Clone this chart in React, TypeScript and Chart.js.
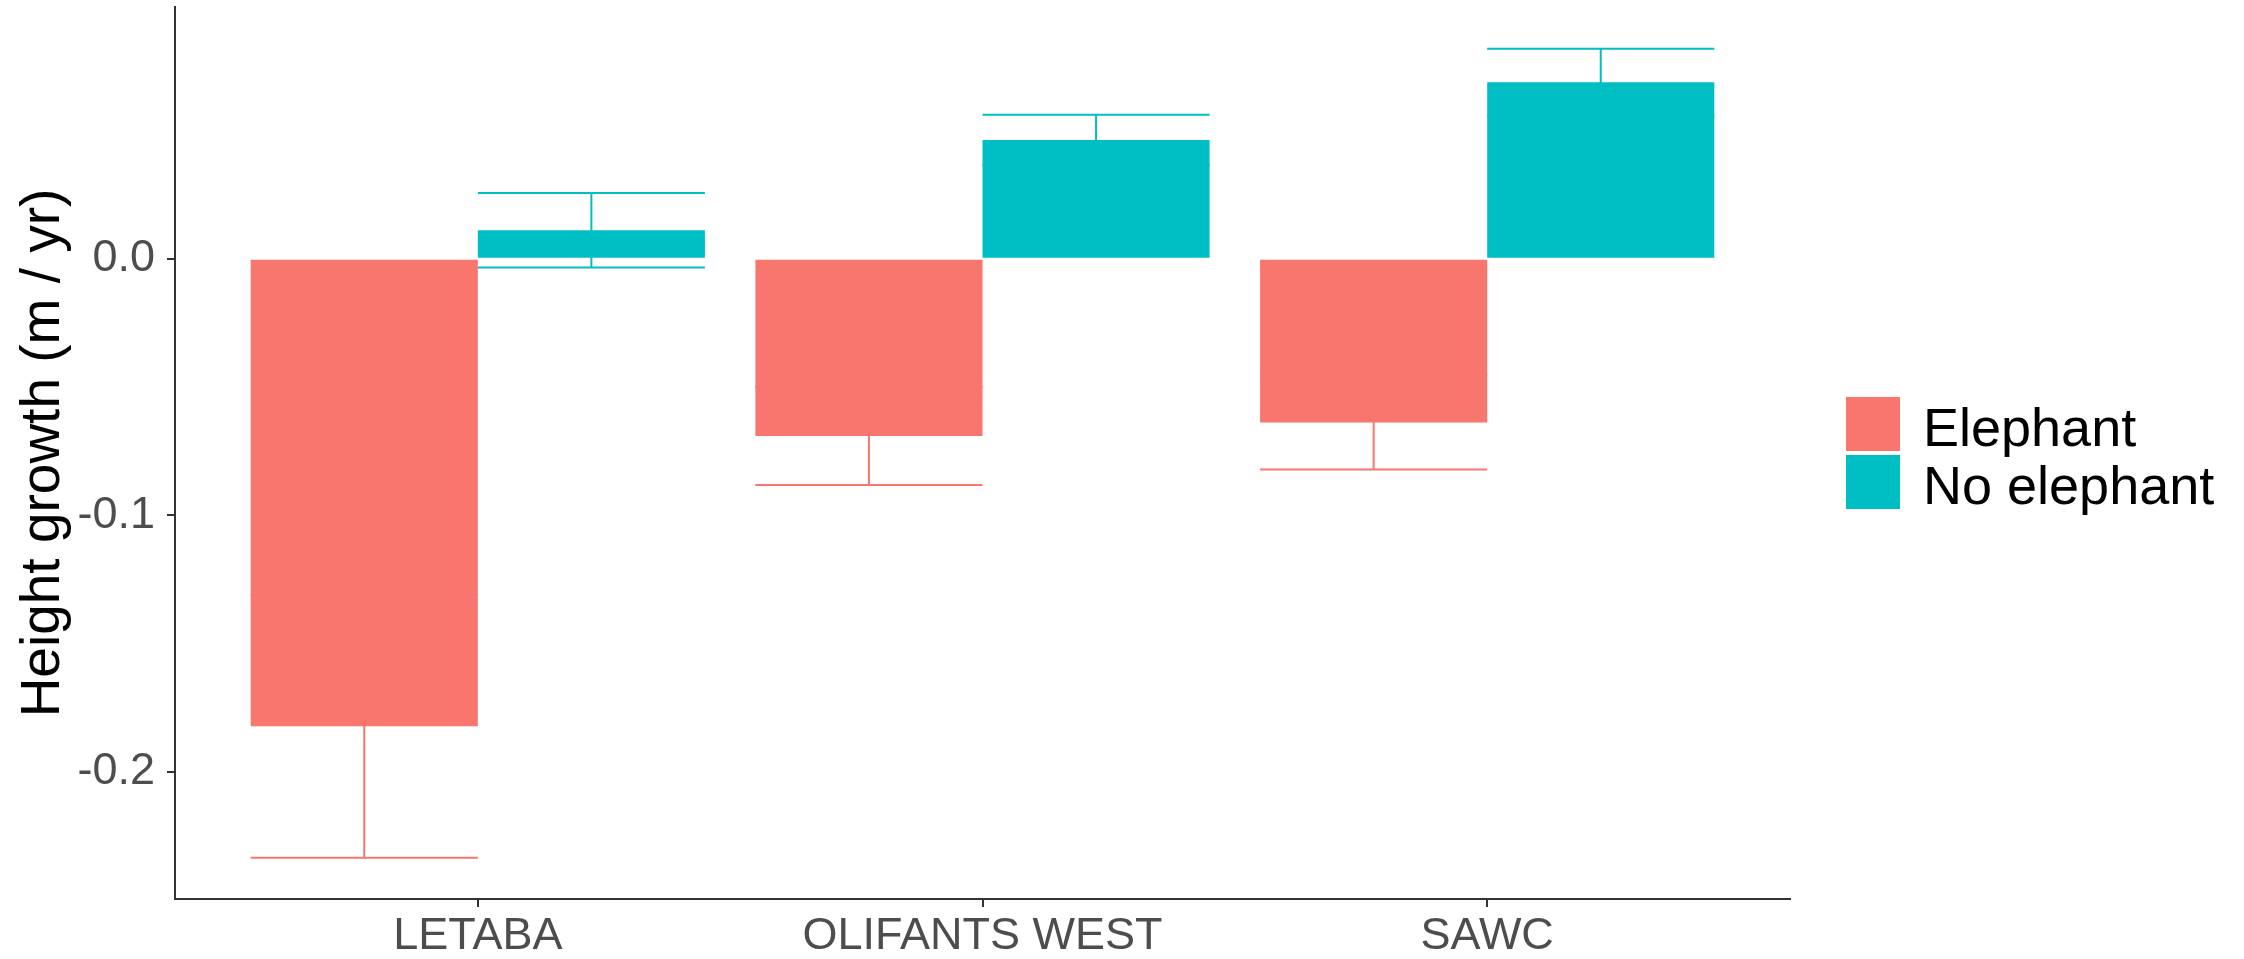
import { useEffect, useRef } from "react";
import { Chart, registerables } from "chart.js";

Chart.register(...registerables);

// ---- data ----
const categories = ["LETABA", "OLIFANTS WEST", "SAWC"];
const seriesNames = ["Elephant", "No elephant"];
const elephantMeans = [-0.1822, -0.0691, -0.0638];
const elephantSE = [0.0512, 0.0191, 0.0183];
const noElephantMeans = [0.0111, 0.0463, 0.0688];
const noElephantSE = [0.0145, 0.0098, 0.013];
const yTicks = [-0.2, -0.1, 0.0];
const yMin = -0.2495;
const yMax = 0.0981;
const seriesColors = ["#F8766D", "#00BFC4"];

const FONT = '"Liberation Sans", Arial, Helvetica, sans-serif';

const errorBarPlugin = {
  id: "errorBars",
  beforeDatasetsDraw(chart: any) {
    const ctx = chart.ctx;
    const yScale = chart.scales.y;
    chart.data.datasets.forEach((ds: any, di: number) => {
      const meta = chart.getDatasetMeta(di);
      meta.data.forEach((bar: any, i: number) => {
        const v = ds.data[i].y;
        const e = ds.errors[i];
        const { x, width } = bar.getProps(["x", "width"], true);
        const yTop = yScale.getPixelForValue(v + e);
        const yBot = yScale.getPixelForValue(v - e);
        ctx.save();
        ctx.strokeStyle = ds.backgroundColor;
        ctx.lineWidth = 2;
        ctx.beginPath();
        ctx.moveTo(x - width / 2, yTop);
        ctx.lineTo(x + width / 2, yTop);
        ctx.moveTo(x - width / 2, yBot);
        ctx.lineTo(x + width / 2, yBot);
        ctx.moveTo(x, yTop);
        ctx.lineTo(x, yBot);
        ctx.stroke();
        ctx.restore();
      });
    });
  },
};

const legendPlugin = {
  id: "sideLegend",
  afterDraw(chart: any) {
    const ctx = chart.ctx;
    const area = chart.chartArea;
    const keyX = area.right + 56;
    const keySize = 54;
    const firstTop = 397;
    const step = 58;
    ctx.save();
    chart.data.datasets.forEach((ds: any, i: number) => {
      const top = firstTop + i * step;
      ctx.fillStyle = ds.backgroundColor;
      ctx.fillRect(keyX, top, keySize, keySize);
      ctx.fillStyle = "#000000";
      ctx.font = `54px ${FONT}`;
      ctx.textAlign = "left";
      ctx.textBaseline = "alphabetic";
      ctx.fillText(ds.label, keyX + keySize + 23, top + 49);
    });
    ctx.restore();
  },
};

export default function App() {
  const canvasRef = useRef<HTMLCanvasElement | null>(null);

  useEffect(() => {
    if (!canvasRef.current) return;
    const chart = new Chart(canvasRef.current, {
      type: "bar",
      data: {
        datasets: [
          {
            label: seriesNames[0],
            data: elephantMeans.map((v, i) => ({ x: i + 1, y: v })),
            errors: elephantSE,
            backgroundColor: seriesColors[0],
            borderWidth: 0,
          } as any,
          {
            label: seriesNames[1],
            data: noElephantMeans.map((v, i) => ({ x: i + 1, y: v })),
            errors: noElephantSE,
            backgroundColor: seriesColors[1],
            borderWidth: 0,
          } as any,
        ],
      },
      options: {
        animation: false,
        responsive: true,
        maintainAspectRatio: false,
        categoryPercentage: 0.9,
        barPercentage: 1.0,
        layout: { padding: { left: 0, top: 7, right: 454, bottom: 0 } },
        plugins: {
          legend: { display: false },
          tooltip: { enabled: false },
        },
        scales: {
          x: {
            type: "linear",
            min: 0.4,
            max: 3.6,
            bounds: "data",
            offset: false,
            grid: {
              offset: false,
              drawOnChartArea: false,
              drawTicks: true,
              tickLength: 8,
              color: "#333333",
              lineWidth: 2,
            },
            border: { display: true, color: "#333333", width: 2 },
            afterBuildTicks: (scale: any) => {
              scale.ticks = categories.map((_, i) => ({ value: i + 1 }));
            },
            afterFit: (scale: any) => {
              scale.height = 60;
              scale.paddingLeft = 0;
              scale.paddingRight = 0;
            },
            ticks: {
              autoSkip: false,
              maxRotation: 0,
              padding: 3,
              color: "#4D4D4D",
              font: { family: FONT, size: 45 },
              callback: (value: any) => categories[Math.round(value) - 1] ?? "",
            },
          } as any,
          y: {
            type: "linear",
            min: yMin,
            max: yMax,
            bounds: "data",
            grid: {
              drawOnChartArea: false,
              drawTicks: true,
              tickLength: 8,
              color: "#333333",
              lineWidth: 2,
            },
            border: { display: true, color: "#333333", width: 2 },
            afterBuildTicks: (scale: any) => {
              scale.ticks = yTicks.map((v) => ({ value: v }));
            },
            afterFit: (scale: any) => {
              scale.width = 175;
              scale.paddingTop = 0;
              scale.paddingBottom = 0;
            },
            ticks: {
              padding: 12,
              color: "#4D4D4D",
              font: { family: FONT, size: 45 },
              callback: (value: any) => Number(value).toFixed(1),
            },
            title: {
              display: true,
              text: "Height growth (m / yr)",
              color: "#000000",
              font: { family: FONT, size: 55 },
              padding: { top: 11, bottom: 0 },
            },
          } as any,
        },
      },
      plugins: [errorBarPlugin, legendPlugin],
    } as any);
    return () => chart.destroy();
  }, []);

  return (
    <div
      style={{
        position: "absolute",
        left: 0,
        top: 0,
        width: "2244px",
        height: "959px",
        background: "#ffffff",
      }}
    >
      <canvas ref={canvasRef} />
    </div>
  );
}
